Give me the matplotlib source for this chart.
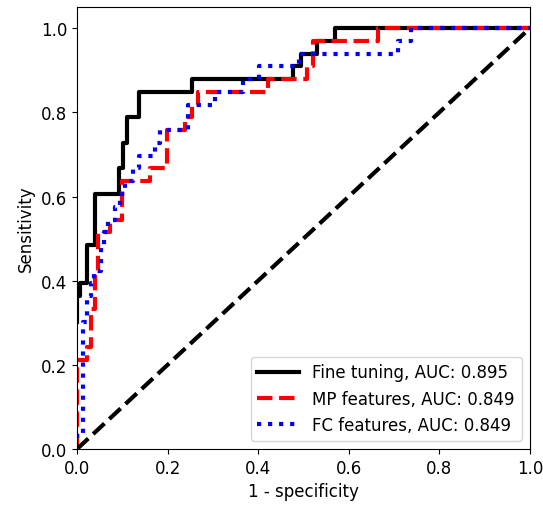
import matplotlib
matplotlib.use('Agg')
import matplotlib.pyplot as plt

# ROC points (corner points of the step curves)
ft_fpr = [0, 0, 0.007, 0.007, 0.022, 0.022, 0.040, 0.040, 0.092, 0.092, 0.101, 0.101,
          0.111, 0.111, 0.136, 0.136, 0.254, 0.254, 0.477, 0.477, 0.494, 0.494,
          0.529, 0.529, 0.569, 0.569, 1.0]
ft_tpr = [0.303, 0.364, 0.364, 0.394, 0.394, 0.485, 0.485, 0.606, 0.606, 0.667, 0.667, 0.727,
          0.727, 0.788, 0.788, 0.848, 0.848, 0.879, 0.879, 0.909, 0.909, 0.939,
          0.939, 0.970, 0.970, 1.0, 1.0]

mp_fpr = [0, 0, 0.022, 0.022, 0.031, 0.031, 0.040, 0.040, 0.047, 0.047, 0.073, 0.073,
          0.099, 0.099, 0.161, 0.161, 0.198, 0.198, 0.238, 0.238, 0.254, 0.254,
          0.267, 0.267, 0.422, 0.422, 0.507, 0.507, 0.521, 0.521, 0.664, 0.664, 1.0]
mp_tpr = [0, 0.212, 0.212, 0.242, 0.242, 0.333, 0.333, 0.424, 0.424, 0.515, 0.515, 0.545,
          0.545, 0.636, 0.636, 0.667, 0.667, 0.758, 0.758, 0.788, 0.788, 0.818,
          0.818, 0.848, 0.848, 0.879, 0.879, 0.909, 0.909, 0.970, 0.970, 1.0, 1.0]

fc_fpr = [0, 0, 0.013, 0.013, 0.022, 0.022, 0.030, 0.030, 0.037, 0.037, 0.052, 0.052,
          0.059, 0.059, 0.069, 0.069, 0.084, 0.084, 0.095, 0.095, 0.106, 0.106,
          0.124, 0.124, 0.138, 0.138, 0.173, 0.173, 0.183, 0.183, 0.245, 0.245,
          0.305, 0.305, 0.366, 0.366, 0.401, 0.401, 0.490, 0.490, 0.709, 0.709,
          0.737, 0.737, 1.0]
fc_tpr = [0, 0.030, 0.030, 0.303, 0.303, 0.364, 0.364, 0.394, 0.394, 0.424, 0.424, 0.485,
          0.485, 0.515, 0.515, 0.545, 0.545, 0.576, 0.576, 0.606, 0.606, 0.636,
          0.636, 0.667, 0.667, 0.697, 0.697, 0.727, 0.727, 0.758, 0.758, 0.818,
          0.818, 0.848, 0.848, 0.879, 0.879, 0.909, 0.909, 0.939, 0.939, 0.970,
          0.970, 1.0, 1.0]

labels = ["Fine tuning, AUC: 0.895", "MP features, AUC: 0.849", "FC features, AUC: 0.849"]

plt.rcParams['font.size'] = 12

fig = plt.figure(figsize=(5.43, 5.10), dpi=100)
ax = fig.add_axes([0.1418, 0.1176, 0.834, 0.8664])

ax.plot(ft_fpr, ft_tpr, color='k', linestyle='-', lw=3, label=labels[0])
ax.plot(mp_fpr, mp_tpr, color='r', linestyle='--', lw=3, label=labels[1])
ax.plot(fc_fpr, fc_tpr, color='b', linestyle=':', lw=3, label=labels[2])
ax.plot([0, 1], [0, 1], color='k', linestyle='--', lw=3)

ax.set_xlim(0, 1)
ax.set_ylim(0, 1.05)
ax.set_xticks([0.0, 0.2, 0.4, 0.6, 0.8, 1.0])
ax.set_yticks([0.0, 0.2, 0.4, 0.6, 0.8, 1.0])
ax.set_xlabel("1 - specificity")
ax.set_ylabel("Sensitivity")
ax.legend(loc='lower right', handlelength=2.5)

fig.savefig('out.png', dpi=100)
